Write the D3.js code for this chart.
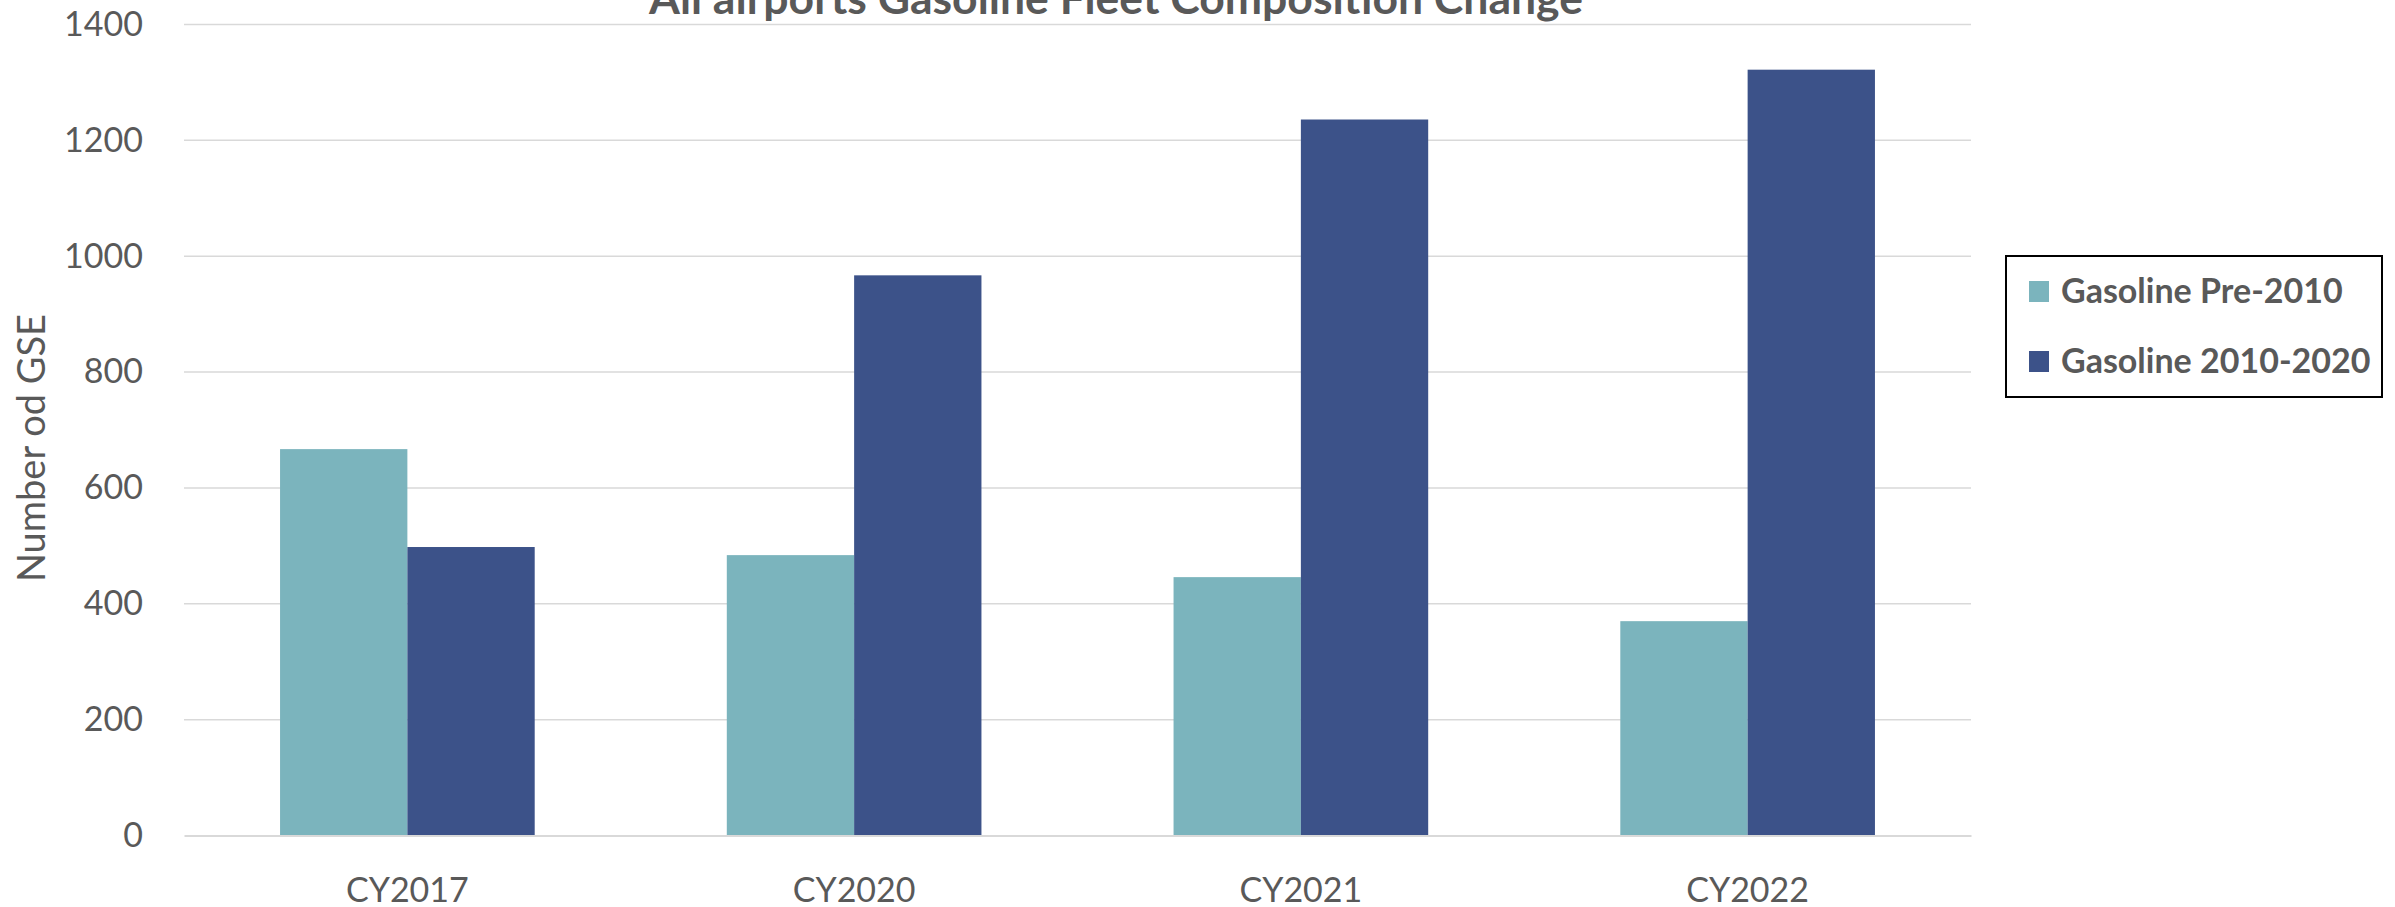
<!DOCTYPE html>
<html>
<head>
<meta charset="utf-8">
<script src="https://cdn.jsdelivr.net/npm/d3@7"></script>
<style>
  html, body { margin: 0; padding: 0; background: #ffffff; }
  svg { display: block; }
  text { font-family: Lato, "Open Sans", sans-serif; fill: #595959; }
</style>
</head>
<body>
<svg id="chart" width="2395" height="907"></svg>
<script>
// Gasoline GSE counts by calendar year and model-year group
const categories = ["CY2017", "CY2020", "CY2021", "CY2022"];
const seriesNames = ["Gasoline Pre-2010", "Gasoline 2010-2020"];
const pre2010 = [667, 484, 446, 370];
const y2010to2020 = [498, 967, 1236, 1322];
const yTicks = [0, 200, 400, 600, 800, 1000, 1200, 1400];
const seriesColors = ["#7bb4bd", "#3c5289"];

const chartTitle = "All airports Gasoline Fleet Composition Change";
const yAxisTitle = "Number od GSE";

const W = 2395, H = 907;
const plot = { left: 184, right: 1971, top: 24.5, bottom: 835.5 };

const svg = d3.select("#chart");

const x0 = d3.scaleBand()
  .domain(categories)
  .range([plot.left, plot.right])
  .paddingInner(0.43)
  .paddingOuter(0.215);

const x1 = d3.scaleBand()
  .domain(seriesNames)
  .range([0, x0.bandwidth()])
  .padding(0);

const y = d3.scaleLinear()
  .domain([0, 1400])
  .range([plot.bottom, plot.top]);

const color = d3.scaleOrdinal().domain(seriesNames).range(seriesColors);

// Horizontal gridlines (the zero line is drawn as the category axis)
svg.append("g")
  .selectAll("line")
  .data(yTicks.filter(t => t !== 0))
  .join("line")
  .attr("x1", plot.left)
  .attr("x2", plot.right)
  .attr("y1", d => y(d))
  .attr("y2", d => y(d))
  .attr("stroke", "#d9d9d9")
  .attr("stroke-width", 1.5);

// Value axis labels
const yAxis = d3.axisLeft(y).tickValues(yTicks).tickSize(0).tickPadding(41).tickFormat(d3.format("d"));
const gy = svg.append("g")
  .attr("transform", `translate(${plot.left},0)`)
  .call(yAxis);
gy.select(".domain").remove();
gy.selectAll("text")
  .attr("fill", "#595959")
  .style("font-size", "34px");

// Bars
const rows = categories.map((c, i) => ({ cat: c, values: [pre2010[i], y2010to2020[i]] }));
const groups = svg.append("g")
  .selectAll("g")
  .data(rows)
  .join("g")
  .attr("transform", d => `translate(${x0(d.cat)},0)`);

groups.selectAll("rect")
  .data(d => seriesNames.map((s, j) => ({ series: s, value: d.values[j] })))
  .join("rect")
  .attr("x", d => x1(d.series))
  .attr("width", x1.bandwidth())
  .attr("y", d => y(d.value))
  .attr("height", d => y(0) - y(d.value))
  .attr("fill", d => color(d.series));

// Category axis
const xAxis = d3.axisBottom(x0).tickSize(0).tickPadding(0);
const gx = svg.append("g")
  .attr("transform", `translate(0,${plot.bottom})`)
  .call(xAxis);
gx.select(".domain")
  .attr("stroke", "#d9d9d9")
  .attr("stroke-width", 2);
gx.selectAll("text")
  .attr("fill", "#595959")
  .attr("y", 66)
  .attr("dy", 0)
  .style("font-size", "34px");

// Axis title
svg.append("text")
  .attr("transform", `translate(45,448) rotate(-90)`)
  .attr("text-anchor", "middle")
  .style("font-size", "38px")
  .text(yAxisTitle);

// Chart title
svg.append("text")
  .attr("x", 1116)
  .attr("y", 13.5)
  .attr("text-anchor", "middle")
  .style("font-size", "44.5px")
  .style("font-weight", "bold")
  .text(chartTitle);

// Legend
const legend = svg.append("g");
legend.append("rect")
  .attr("x", 2006)
  .attr("y", 256)
  .attr("width", 376)
  .attr("height", 141)
  .attr("fill", "#ffffff")
  .attr("stroke", "#000000")
  .attr("stroke-width", 2);

const items = legend.selectAll("g.item")
  .data(seriesNames)
  .join("g")
  .attr("class", "item")
  .attr("transform", (d, i) => `translate(2029,${303 + i * 70})`);

items.append("rect")
  .attr("x", 0)
  .attr("y", -22)
  .attr("width", 20)
  .attr("height", 21)
  .attr("fill", d => color(d));

items.append("text")
  .attr("x", 32)
  .attr("y", 0)
  .style("font-size", "34px")
  .style("font-weight", "bold")
  .text(d => d);
</script>
</body>
</html>
